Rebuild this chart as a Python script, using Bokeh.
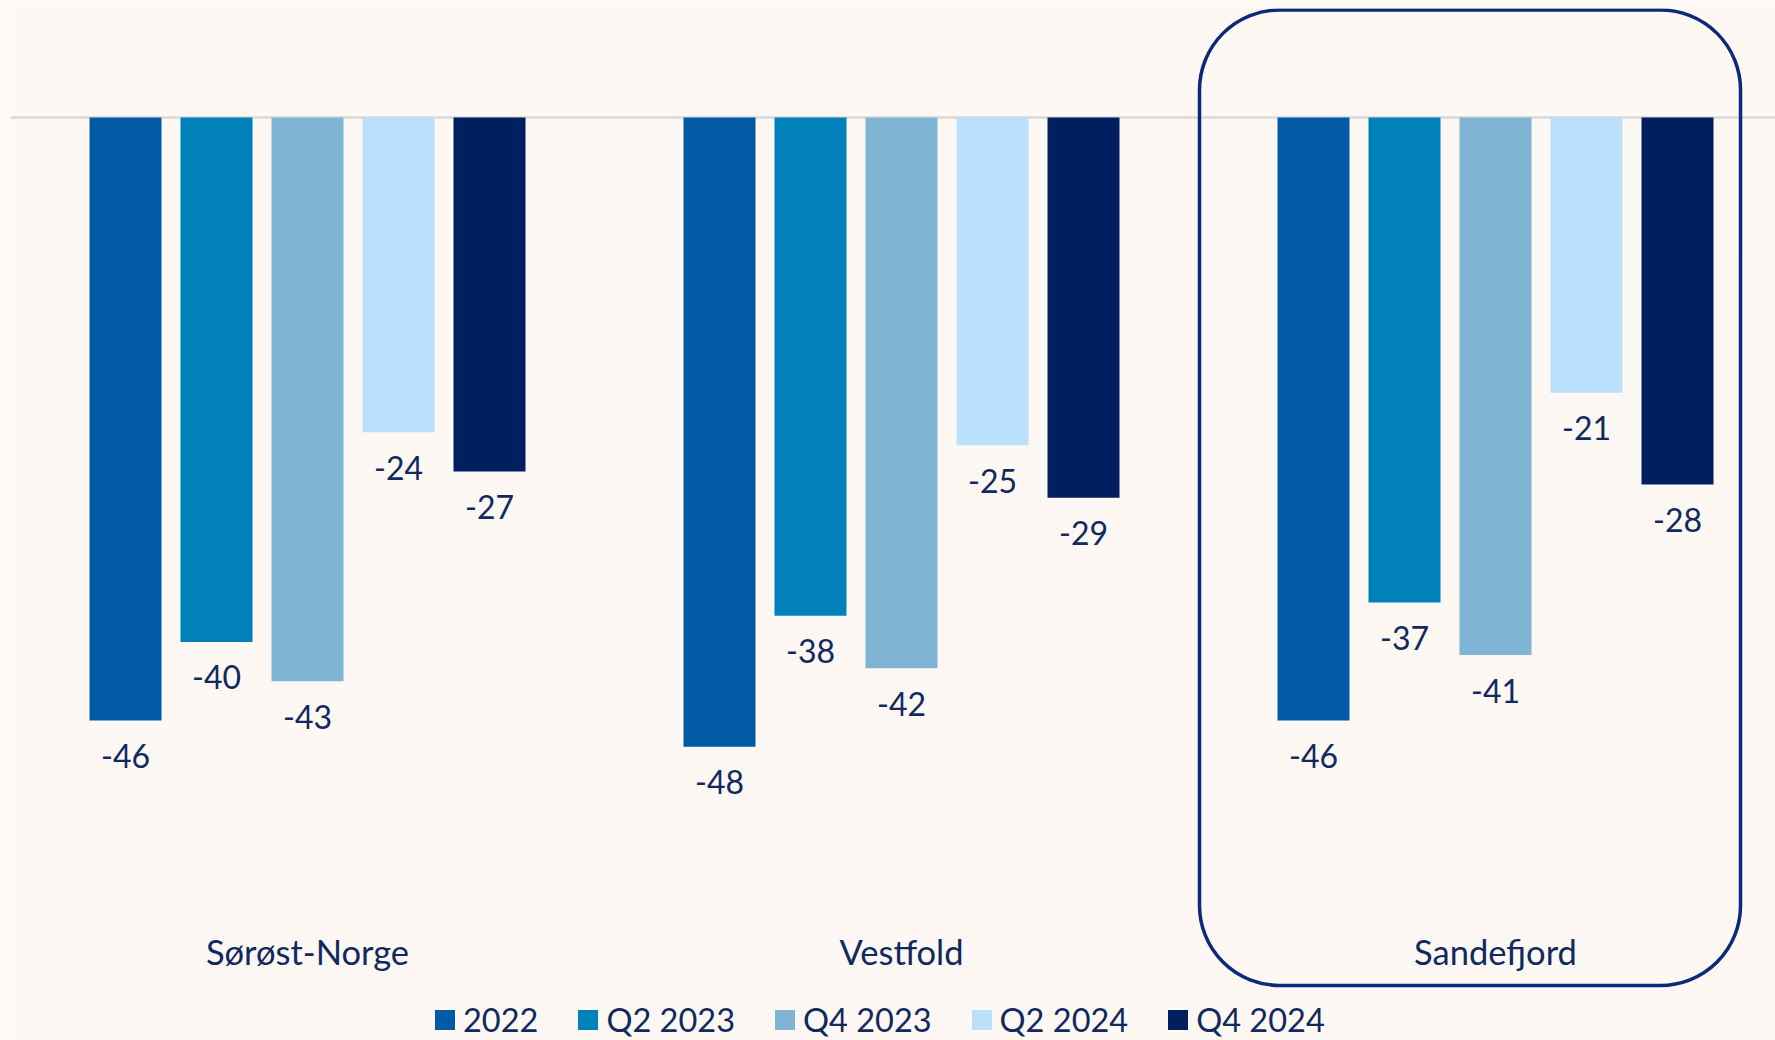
from bokeh.plotting import figure
from bokeh.models import ColumnDataSource, Range1d, Span, BoxAnnotation, Legend, LegendItem
from bokeh.core.properties import value
from bokeh.embed import file_html
from bokeh.resources import INLINE

categories = ["Sørøst-Norge", "Vestfold", "Sandefjord"]
series = ["2022", "Q2 2023", "Q4 2023", "Q2 2024", "Q4 2024"]
v_2022 = [-46, -48, -46]
v_q2_2023 = [-40, -38, -37]
v_q4_2023 = [-43, -42, -41]
v_q2_2024 = [-24, -25, -21]
v_q4_2024 = [-27, -29, -28]
values = [v_2022, v_q2_2023, v_q4_2023, v_q2_2024, v_q4_2024]
colors = ["#005BA4", "#0081BA", "#7FB4D3", "#BBE0FC", "#001F5F"]

BG = "#FDF8F4"
NAVY = "#10295E"
FONT = "Lato"

step = 91 / 594
bar_w = 72 / 594

p = figure(width=1775, height=1040, output_backend="svg", toolbar_location=None,
           x_range=Range1d(-0.5, -0.5 + 1765 / 594), y_range=Range1d(-70.4, 8.31),
           min_border_left=10, min_border_right=0, min_border_top=8, min_border_bottom=0,
           background_fill_color=BG, border_fill_color=BG, outline_line_color=None)
p.axis.visible = False
p.grid.visible = False

zero = Span(location=0, dimension="width", line_color="#D9D9D9", line_width=2.5, level="underlay")
p.add_layout(zero)

items = []
for j, (name, vals, col) in enumerate(zip(series, values, colors)):
    xs = [i + (j - 2) * step for i in range(len(categories))]
    src = ColumnDataSource(dict(x=xs, top=vals, lab=[str(v) for v in vals]))
    r = p.vbar(x="x", top="top", bottom=0, width=bar_w, source=src,
               fill_color=col, line_color=None)
    p.text(x="x", y="top", text="lab", source=src, y_offset=35.5,
           text_align="center", text_baseline="alphabetic",
           text_font=value(FONT), text_font_size="32px", text_color=NAVY)
    items.append(LegendItem(label=name, renderers=[r]))

cat_src = ColumnDataSource(dict(x=list(range(len(categories))),
                                y=[-63.6] * len(categories), t=categories))
p.text(x="x", y="y", text="t", source=cat_src, text_align="center",
       text_baseline="alphabetic", text_font=value(FONT), text_font_size="34.5px",
       text_color=NAVY)

box = BoxAnnotation(left=1.5017, right=2.4125, top=8.2, bottom=-66.2,
                    fill_alpha=0, line_color="#0B2A78", line_alpha=1, line_width=3.5,
                    border_radius=80)
p.add_layout(box)

legend = Legend(items=items, orientation="horizontal", location=(422, 1),
                glyph_width=25, glyph_height=25, label_standoff=6, spacing=37,
                padding=0, margin=0, border_line_color=None, background_fill_alpha=0,
                label_text_font=FONT, label_text_font_size="32.5px",
                label_text_color=NAVY)
p.add_layout(legend)

html = file_html(p, INLINE)
html = html.replace("<body>", '<body style="background:%s">' % BG, 1)
open("out.html", "w").write(html)
